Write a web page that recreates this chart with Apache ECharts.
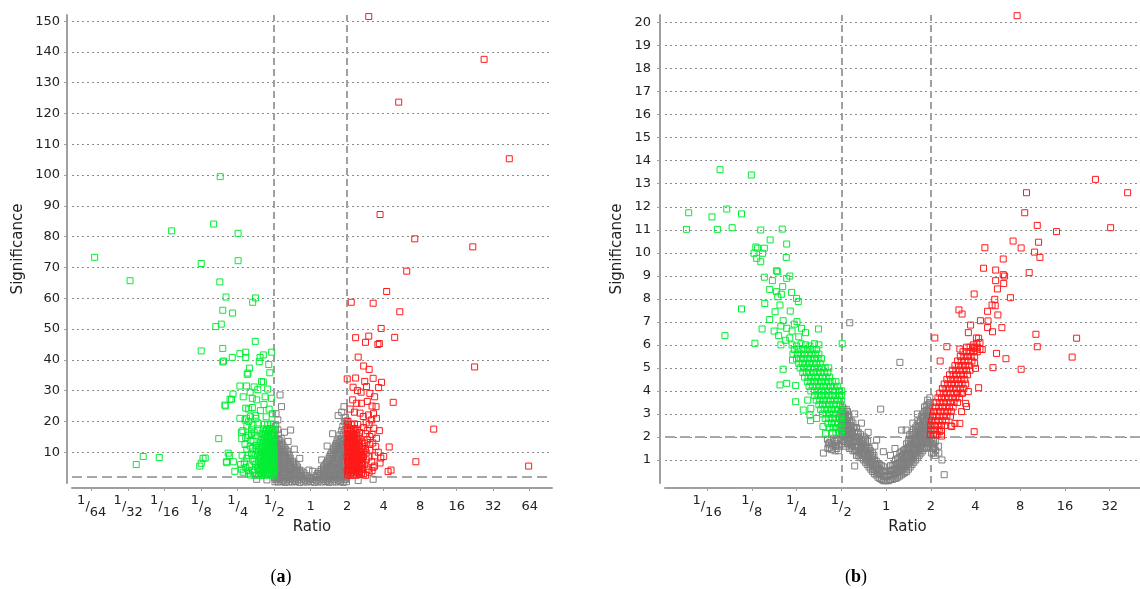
<!DOCTYPE html>
<html>
<head>
<meta charset="utf-8">
<script src="https://cdn.jsdelivr.net/npm/echarts@6/dist/echarts.min.js"></script>
<style>
  html, body { margin: 0; padding: 0; background: #fff; }
  #chart { width: 1140px; height: 589px; }
</style>
</head>
<body>
<div id="chart"></div>
<script>
// x values are log2(ratio), y values are significance

const xTicksA = [-6, -5, -4, -3, -2, -1, 0, 1, 2, 3, 4, 5, 6]
const xLabelsA = ['1/64', '1/32', '1/16', '1/8', '1/4', '1/2', '1', '2', '4', '8', '16', '32', '64']
const yTicksA = [10, 20, 30, 40, 50, 60, 70, 80, 90, 100, 110, 120, 130, 140, 150]

const xTicksB = [-4, -3, -2, -1, 0, 1, 2, 3, 4, 5]
const xLabelsB = ['1/16', '1/8', '1/4', '1/2', '1', '2', '4', '8', '16', '32']
const yTicksB = [1, 2, 3, 4, 5, 6, 7, 8, 9, 10, 11, 12, 13, 14, 15, 16, 17, 18, 19, 20]

const ratioCutoffs = [-1, 1]   // 1/2 and 2
const sigCutoff = 2

const grayA = [
  [-0.98,0.4],[-0.89,0.3],[-0.79,0.5],[-0.7,0.2],[-0.6,0.4],[-0.5,0.3],[-0.41,0.5],[-0.3,0.2],[-0.2,0.4],[-0.1,0.3],[0.0,0.5],
  [0.1,0.2],[0.2,0.4],[0.3,0.3],[0.41,0.5],[0.5,0.2],[0.6,0.4],[0.7,0.3],[0.8,0.5],[0.89,0.2],[0.98,0.4],
  [-0.95,1.0],[-0.85,1.1],[-0.75,0.9],[-0.65,1.0],[-0.55,1.1],[-0.45,0.9],[-0.35,1.0],[-0.25,1.1],[-0.15,0.9],[-0.05,1.0],
  [0.05,1.1],[0.15,0.9],[0.25,1.0],[0.35,1.1],[0.45,0.9],[0.55,1.0],[0.65,1.1],[0.75,0.9],[0.85,1.0],[0.95,1.1],
  [-0.99,1.7],[-0.9,1.5],[-0.8,1.8],[-0.7,1.6],[-0.6,1.9],[-0.5,1.5],[-0.4,1.7],[-0.3,1.8],[-0.2,1.6],[-0.1,1.9],[-0.02,1.5],
  [0.08,1.7],[0.18,1.8],[0.28,1.6],[0.38,1.9],[0.48,1.5],[0.58,1.7],[0.68,1.8],[0.78,1.6],[0.88,1.9],[0.97,1.7],
  [-0.95,2.4],[-0.85,2.3],[-0.75,2.5],[-0.65,2.4],[-0.55,2.3],[-0.45,2.5],[-0.35,2.4],[-0.25,2.3],[-0.15,2.5],
  [0.15,2.4],[0.25,2.5],[0.35,2.3],[0.45,2.4],[0.55,2.5],[0.65,2.3],[0.75,2.4],[0.85,2.5],[0.95,2.3],
  [-0.98,3.0],[-0.88,3.2],[-0.78,2.9],[-0.68,3.3],[-0.58,3.1],[-0.48,2.9],[-0.38,3.2],[-0.28,3.0],[-0.19,3.3],
  [0.19,3.1],[0.28,2.9],[0.38,3.2],[0.48,3.0],[0.58,3.3],[0.68,2.9],[0.78,3.1],[0.88,3.2],[0.97,3.0],
  [-0.95,3.8],[-0.85,3.9],[-0.75,3.7],[-0.65,3.8],[-0.55,3.9],[-0.45,3.7],[-0.35,3.8],[-0.26,3.9],
  [0.25,3.8],[0.34,3.7],[0.44,3.9],[0.54,3.8],[0.64,3.7],[0.74,3.9],[0.84,3.8],[0.94,3.7],
  [-0.99,4.5],[-0.89,4.3],[-0.79,4.6],[-0.69,4.4],[-0.59,4.7],[-0.49,4.3],[-0.39,4.5],[-0.31,4.2],
  [0.29,4.4],[0.37,4.6],[0.47,4.3],[0.57,4.5],[0.67,4.7],[0.77,4.4],[0.87,4.6],[0.97,4.3],
  [-0.95,5.2],[-0.85,5.3],[-0.75,5.1],[-0.65,5.2],[-0.55,5.3],[-0.45,5.1],[-0.36,5.2],
  [0.35,5.2],[0.44,5.1],[0.53,5.3],[0.63,5.2],[0.73,5.1],[0.83,5.3],[0.93,5.2],
  [-0.98,5.9],[-0.88,6.1],[-0.78,5.8],[-0.68,6.0],[-0.58,5.7],[-0.48,6.1],[-0.4,5.8],
  [0.39,5.9],[0.47,6.1],[0.56,5.8],[0.66,6.0],[0.76,5.7],[0.86,6.1],[0.96,5.9],
  [-0.95,6.6],[-0.85,6.7],[-0.75,6.5],[-0.65,6.6],[-0.55,6.7],[-0.46,6.5],
  [0.43,6.6],[0.51,6.7],[0.6,6.5],[0.7,6.6],[0.8,6.7],[0.9,6.5],
  [-0.99,7.3],[-0.9,7.1],[-0.8,7.4],[-0.7,7.2],[-0.6,7.5],[-0.5,7.1],
  [0.46,7.2],[0.55,7.4],[0.65,7.1],[0.75,7.5],[0.85,7.2],[0.95,7.4],
  [-0.95,8.0],[-0.85,8.1],[-0.75,7.9],[-0.65,8.0],[-0.56,8.1],
  [0.5,8.0],[0.58,7.9],[0.67,8.1],[0.76,8.0],[0.86,7.9],[0.95,8.1],
  [-0.98,8.7],[-0.89,8.5],[-0.79,8.8],[-0.69,8.6],[-0.59,8.9],
  [0.52,8.6],[0.61,8.8],[0.71,8.5],[0.8,8.9],[0.9,8.7],[0.98,8.5],
  [-0.95,9.4],[-0.85,9.5],[-0.75,9.3],[-0.62,9.4],
  [0.55,9.4],[0.63,9.3],[0.72,9.5],[0.81,9.4],[0.9,9.3],
  [-0.99,10.1],[-0.9,9.9],[-0.81,10.2],[-0.72,10.0],[-0.64,10.3],
  [0.58,10.0],[0.67,10.2],[0.76,9.9],[0.85,10.3],[0.94,10.1],
  [-0.95,10.8],[-0.85,10.9],[-0.76,10.7],[-0.68,10.8],
  [0.62,10.8],[0.7,10.7],[0.79,10.9],[0.88,10.8],[0.96,10.7],
  [-0.98,11.5],[-0.89,11.3],[-0.8,11.7],[-0.71,11.4],
  [0.64,11.4],[0.72,11.7],[0.81,11.3],[0.9,11.6],[0.98,11.4],
  [-0.95,12.2],[-0.85,12.3],[-0.76,12.1],[0.68,12.2],[0.76,12.1],[0.85,12.3],[0.94,12.2],
  [-0.99,12.9],[-0.9,12.7],[-0.8,13.0],[0.7,12.8],[0.78,13.1],[0.87,12.7],[0.96,13.0],
  [-0.95,13.6],[-0.85,13.7],[0.72,13.6],[0.81,13.5],[0.9,13.7],[0.98,13.6],
  [-0.98,14.3],[-0.89,14.1],[-0.81,14.5],[0.75,14.2],[0.84,14.5],[0.93,14.1],[0.99,14.4],
  [-0.99,15.7],[-0.88,15.9],[0.8,15.6],[0.89,15.9],[0.97,15.7],
  [-0.97,17.1],[-0.9,17.3],[0.85,17.0],[0.94,17.3],
  [-0.96,18.5],[0.88,18.4],[0.97,18.7],
  [0.92,19.9],[0.99,20.2],[0.95,21.3],
  [-0.84,28.6],[-0.8,24.8],[-0.55,17.2],[-0.95,22.5],[-0.9,20.5],[-0.72,16.5],[-0.62,13.5],
  [0.91,24.8],[0.75,21.9],[0.6,16.0],[0.85,23.0],[1.71,1.2],[-1.48,1.2],[-0.3,8.0],[0.3,7.5],
  [0.05,3.8],[-0.05,4.2],[0.45,12.0],[-0.45,11.0],[-1.2,1.0],[1.3,0.8]
]

const greenA = [
  [-5.92,73.3],[-4.95,65.7],[-3.81,81.9],[-2.66,84.1],[-2.48,99.5],[-1.99,81.1],[-3.0,71.3],[-1.99,72.2],
  [-2.49,65.3],[-2.32,60.4],[-2.41,56.1],[-2.14,55.2],[-2.6,50.8],[-2.45,51.6],[-1.59,58.7],[-1.51,60.1],
  [-3.0,42.9],[-2.41,43.7],[-2.41,39.3],[-2.39,39.6],[-2.15,40.8],[-1.94,42.0],[-1.78,42.5],[-1.52,46.0],
  [-1.78,40.8],[-1.39,40.8],[-1.30,41.6],[-1.07,42.5],[-1.15,38.5],[-1.12,35.8],[-1.68,37.3],[-1.74,35.3],
  [-1.41,39.4],[-1.94,31.5],[-1.76,31.5],[-1.55,31.2],[-1.45,30.3],[-1.3,32.8],[-2.13,28.9],[-2.21,27.2],
  [-2.34,25.0],[-2.52,14.4],[-1.89,14.4],[-1.94,21.0],[-1.76,21.0],[-3.0,6.4],[-2.89,8.1],[-3.04,5.5],
  [-4.78,6.0],[-4.59,8.6],[-4.15,8.3],[-2.3,6.6],[-2.23,8.9],[-2.08,3.8],[-1.70,3.0],[-2.35,25.3],
  [-2.17,27.2],[-1.72,35.7],[-1.35,32.9],[-2.26,9.7],[-2.31,6.9],[-2.12,6.9],[-2.95,8.0],
  [-1.85,28.0],[-1.66,29.5],[-1.6,27.5],[-1.48,27.0],[-1.7,24.0],[-1.6,24.5],[-1.78,24.3],[-1.52,22.0],
  [-1.65,21.5],[-1.38,23.5],[-1.45,19.5],[-1.75,18.5],[-1.62,17.5],[-1.86,17.0],[-1.55,16.5],[-1.7,15.5],
  [-1.8,12.5],[-1.66,12.0],[-1.58,13.5],[-1.88,9.0],[-1.75,8.0],[-1.62,9.5],[-1.82,6.5],[-1.68,5.5],
  [-1.55,7.0],[-1.9,4.5],[-1.58,3.5],[-1.45,4.8],[-1.35,3.0],[-1.25,28.0],[-1.18,30.5],[-1.08,27.5],
  [-1.28,25.5],[-1.14,24.0],[-1.05,22.5],[-1.22,21.5],
  [-1.52,2.5],[-1.6,4.2],[-1.7,4.0],[-1.78,5.0],[-1.5,6.2],[-1.6,7.8],[-1.72,9.0],[-1.52,9.2],
  [-1.48,10.8],[-1.6,11.2],[-1.75,11.0],[-1.5,12.2],[-1.64,13.8],[-1.78,14.8],[-1.5,15.5],[-1.62,16.0],
  [-1.45,17.0],[-1.58,18.8],[-1.7,20.0],[-1.5,21.0],[-1.85,3.5],[-1.92,6.0],[-1.65,2.6],[-1.8,20.5],[-1.9,16.5],
  [-1.43,2.6],[-1.33,2.4],[-1.24,2.7],[-1.15,2.5],[-1.06,2.8],[-1.0,2.3],
  [-1.38,3.3],[-1.29,3.2],[-1.2,3.4],[-1.11,3.2],[-1.02,3.3],
  [-1.41,4.1],[-1.32,3.9],[-1.23,4.2],[-1.14,4.0],[-1.05,3.8],[-1.0,4.3],
  [-1.38,4.8],[-1.29,4.7],[-1.2,4.9],[-1.11,4.7],[-1.02,4.8],
  [-1.44,5.6],[-1.34,5.4],[-1.25,5.7],[-1.16,5.5],[-1.07,5.3],[-1.0,5.8],
  [-1.38,6.3],[-1.29,6.2],[-1.2,6.4],[-1.11,6.2],[-1.02,6.3],
  [-1.42,7.1],[-1.33,6.9],[-1.24,7.2],[-1.15,7.0],[-1.06,7.3],[-1.0,6.8],
  [-1.37,7.8],[-1.28,7.7],[-1.19,7.9],[-1.1,7.7],[-1.02,7.8],
  [-1.4,8.6],[-1.31,8.4],[-1.22,8.7],[-1.13,8.5],[-1.05,8.3],[-1.0,8.8],
  [-1.37,9.3],[-1.28,9.2],[-1.19,9.4],[-1.1,9.2],[-1.02,9.3],
  [-1.43,10.1],[-1.34,9.9],[-1.25,10.2],[-1.16,10.0],[-1.07,9.8],[-1.0,10.3],
  [-1.37,10.8],[-1.28,10.7],[-1.19,10.9],[-1.1,10.7],[-1.02,10.8],
  [-1.41,11.6],[-1.32,11.4],[-1.23,11.7],[-1.14,11.5],[-1.05,11.3],[-1.0,11.8],
  [-1.33,12.3],[-1.24,12.2],[-1.15,12.4],[-1.06,12.2],
  [-1.38,13.1],[-1.29,12.9],[-1.2,13.2],[-1.11,13.0],[-1.03,12.8],
  [-1.31,13.8],[-1.22,13.7],[-1.13,13.9],[-1.04,13.7],
  [-1.36,14.6],[-1.27,14.4],[-1.18,14.7],[-1.09,14.5],[-1.0,14.3],
  [-1.28,15.3],[-1.19,15.2],[-1.1,15.4],[-1.02,15.2],
  [-1.33,16.1],[-1.24,15.9],[-1.15,16.2],[-1.06,16.0],[-1.0,16.4],
  [-1.25,16.8],[-1.16,16.7],[-1.07,16.9],
  [-1.3,17.6],[-1.21,17.4],[-1.12,17.7],[-1.03,17.5],
  [-1.27,19.1],[-1.18,18.9],[-1.09,19.2],[-1.01,19.0]
]

const redA = [
  [1.59,151.5],[4.75,137.6],[2.41,123.7],[5.44,105.3],[1.90,87.2],[2.85,79.3],[4.44,76.7],[2.63,68.8],
  [2.08,62.2],[1.11,58.7],[1.71,58.4],[2.44,55.6],[1.93,50.2],[1.23,47.2],[1.59,47.7],[1.50,45.7],
  [1.84,45.0],[1.88,45.3],[2.30,47.3],[1.30,40.9],[1.45,38.0],[1.60,36.9],[4.49,37.7],[1.0,33.8],
  [1.23,34.1],[1.16,31.1],[1.94,32.7],[1.86,31.0],[2.26,26.2],[3.37,17.5],[2.15,11.7],[1.92,8.1],
  [2.0,8.6],[2.88,6.9],[2.2,4.2],[2.12,3.7],[5.97,5.5],[1.71,5.1],
  [1.71,34.0],[1.53,31.3],[1.62,29.1],[1.75,28.0],[1.79,24.8],[1.26,25.9],[1.39,25.9],[1.35,22.7],
  [1.44,21.6],[1.58,22.1],[1.67,20.5],[1.73,17.8],[1.55,17.0],[1.62,15.1],[1.48,12.9],[1.62,10.7],
  [1.44,8.6],[1.33,5.9],[1.48,5.9],[1.67,6.9],[1.85,10.0],[1.7,13.0],[1.52,19.5],[1.38,29.5],
  [1.48,33.0],[1.28,30.0],[1.15,27.0],[1.08,24.0],[1.2,23.0],[1.02,20.0],[1.6,3.5],[1.45,3.0],
  [1.55,26.5],[1.68,25.0],[1.8,21.0],
  [1.5,2.5],[1.58,4.5],[1.68,4.0],[1.75,5.5],[1.52,7.5],[1.6,8.5],[1.75,8.8],[1.52,9.8],
  [1.5,11.2],[1.62,12.5],[1.78,11.8],[1.55,14.0],[1.68,15.8],[1.8,14.5],[1.5,16.0],[1.45,18.0],
  [1.6,19.0],[1.72,22.5],[1.88,17.0],[1.9,6.5],
  [1.01,2.6],[1.08,2.4],[1.16,2.7],[1.25,2.5],[1.34,2.8],
  [1.04,3.3],[1.12,3.2],[1.21,3.4],[1.3,3.2],[1.39,3.3],
  [1.0,4.1],[1.06,3.9],[1.15,4.2],[1.24,4.0],[1.33,3.8],[1.42,4.3],
  [1.04,4.8],[1.12,4.7],[1.21,4.9],[1.3,4.7],[1.39,4.8],
  [1.02,5.6],[1.08,5.4],[1.17,5.7],[1.26,5.5],[1.35,5.3],[1.43,5.8],
  [1.04,6.3],[1.12,6.2],[1.21,6.4],[1.3,6.2],[1.39,6.3],
  [1.01,7.1],[1.07,6.9],[1.16,7.2],[1.25,7.0],[1.34,7.3],[1.42,6.8],
  [1.04,7.8],[1.12,7.7],[1.21,7.9],[1.3,7.7],[1.39,7.8],
  [1.0,8.6],[1.06,8.4],[1.15,8.7],[1.24,8.5],[1.33,8.3],[1.41,8.8],
  [1.04,9.3],[1.12,9.2],[1.21,9.4],[1.3,9.2],[1.39,9.3],
  [1.02,10.1],[1.08,9.9],[1.17,10.2],[1.26,10.0],[1.35,9.8],[1.43,10.3],
  [1.04,10.8],[1.12,10.7],[1.21,10.9],[1.3,10.7],[1.39,10.8],
  [1.01,11.6],[1.07,11.4],[1.16,11.7],[1.25,11.5],[1.34,11.3],[1.42,11.8],
  [1.04,12.3],[1.12,12.2],[1.21,12.4],[1.3,12.2],
  [1.0,13.1],[1.06,12.9],[1.15,13.2],[1.24,13.0],[1.33,12.8],[1.41,13.3],
  [1.04,13.8],[1.12,13.7],[1.21,13.9],[1.3,13.7],
  [1.02,14.6],[1.08,14.4],[1.17,14.7],[1.26,14.5],[1.35,14.3],
  [1.04,15.3],[1.12,15.2],[1.21,15.4],[1.3,15.2],
  [1.01,16.1],[1.07,15.9],[1.16,16.2],[1.25,16.0],[1.34,16.4],
  [1.05,16.8],[1.13,16.7],[1.22,16.9],
  [1.0,17.6],[1.09,17.4],[1.18,17.7],[1.27,17.5],
  [1.02,19.1],[1.11,18.9],[1.2,19.2],[1.29,19.0]
]

const grayB = [
  [-1.3,1.5],[-1.29,1.7],[-1.31,1.9],[-1.22,1.45],[-1.21,1.65],[-1.23,1.85],[-1.14,1.4],[-1.13,1.6],
  [-1.15,1.8],[-1.06,1.4],[-1.05,1.6],[-1.07,1.85],[-1.26,1.55],[-1.26,1.75],[-1.1,1.5],[-1.1,1.7],[-1.1,1.9],
  [-0.98,1.7],[-0.99,1.9],[-0.97,2.1],[-0.98,2.3],[-0.99,2.5],[-0.97,2.7],[-0.98,2.9],[-0.99,3.1],[-0.97,3.3],
  [-0.94,1.8],[-0.94,2.0],[-0.94,2.2],[-0.94,2.4],[-0.94,2.6],[-0.94,2.8],[-0.94,3.0],[-0.94,3.2],
  [-0.9,1.6],[-0.91,1.8],[-0.89,2.0],[-0.9,2.2],[-0.91,2.4],[-0.89,2.6],[-0.9,2.8],[-0.91,3.0],[-0.89,3.2],
  [-0.86,1.7],[-0.86,1.9],[-0.86,2.1],[-0.86,2.3],[-0.86,2.5],[-0.86,2.7],[-0.86,2.9],[-0.86,3.1],
  [-0.82,1.5],[-0.83,1.7],[-0.81,1.9],[-0.82,2.1],[-0.83,2.3],[-0.81,2.5],[-0.82,2.7],[-0.83,2.9],
  [-0.78,1.5],[-0.78,1.7],[-0.78,1.9],[-0.78,2.1],[-0.78,2.3],[-0.78,2.5],[-0.78,2.7],
  [-0.74,1.4],[-0.75,1.6],[-0.73,1.8],[-0.74,2.0],[-0.75,2.2],[-0.73,2.4],[-0.74,2.6],
  [-0.7,1.4],[-0.7,1.6],[-0.7,1.8],[-0.7,2.0],[-0.7,2.2],[-0.7,2.4],
  [-0.66,1.2],[-0.67,1.4],[-0.65,1.6],[-0.66,1.8],[-0.67,2.0],[-0.65,2.2],[-0.66,2.4],
  [-0.62,1.2],[-0.62,1.4],[-0.62,1.6],[-0.62,1.8],[-0.62,2.0],[-0.62,2.2],
  [-0.58,1.1],[-0.59,1.3],[-0.57,1.5],[-0.58,1.7],[-0.59,1.9],[-0.57,2.1],
  [-0.54,1.1],[-0.54,1.3],[-0.54,1.5],[-0.54,1.7],[-0.54,1.9],
  [-0.5,1.0],[-0.51,1.2],[-0.49,1.4],[-0.5,1.6],[-0.51,1.8],[-0.49,2.0],
  [-0.46,0.9],[-0.46,1.1],[-0.46,1.3],[-0.46,1.5],[-0.46,1.7],[-0.46,1.9],
  [-0.42,0.8],[-0.43,1.0],[-0.41,1.2],[-0.42,1.4],[-0.43,1.6],[-0.41,1.8],
  [-0.38,0.7],[-0.38,0.9],[-0.38,1.1],[-0.38,1.3],[-0.38,1.5],
  [-0.34,0.6],[-0.35,0.8],[-0.33,1.0],[-0.34,1.2],[-0.35,1.4],
  [-0.3,0.5],[-0.3,0.7],[-0.3,0.9],[-0.3,1.1],[-0.3,1.3],
  [-0.26,0.4],[-0.27,0.6],[-0.25,0.8],[-0.26,1.0],[-0.27,1.2],
  [-0.22,0.35],[-0.22,0.55],[-0.22,0.75],[-0.22,0.95],
  [-0.18,0.25],[-0.19,0.45],[-0.17,0.65],[-0.18,0.85],
  [-0.14,0.2],[-0.14,0.4],[-0.14,0.6],[-0.14,0.8],
  [-0.1,0.15],[-0.11,0.35],[-0.09,0.55],[-0.1,0.75],
  [-0.06,0.1],[-0.06,0.3],[-0.06,0.5],[-0.06,0.7],
  [-0.02,0.1],[-0.03,0.3],[-0.01,0.5],
  [0.02,0.1],[0.02,0.3],[0.02,0.5],
  [0.06,0.1],[0.05,0.3],[0.07,0.5],
  [0.1,0.15],[0.1,0.35],[0.1,0.55],[0.1,0.75],
  [0.14,0.15],[0.13,0.35],[0.15,0.55],[0.14,0.75],
  [0.18,0.2],[0.18,0.4],[0.18,0.6],[0.18,0.8],
  [0.22,0.2],[0.21,0.4],[0.23,0.6],[0.22,0.8],[0.21,1.0],
  [0.26,0.25],[0.26,0.45],[0.26,0.65],[0.26,0.85],[0.26,1.05],
  [0.3,0.3],[0.29,0.5],[0.31,0.7],[0.3,0.9],[0.29,1.1],[0.31,1.3],
  [0.34,0.35],[0.34,0.55],[0.34,0.75],[0.34,0.95],[0.34,1.15],[0.34,1.35],
  [0.38,0.4],[0.37,0.6],[0.39,0.8],[0.38,1.0],[0.37,1.2],[0.39,1.4],
  [0.42,0.45],[0.42,0.65],[0.42,0.85],[0.42,1.05],[0.42,1.25],[0.42,1.45],
  [0.46,0.5],[0.45,0.7],[0.47,0.9],[0.46,1.1],[0.45,1.3],[0.47,1.5],[0.46,1.7],
  [0.5,0.6],[0.5,0.8],[0.5,1.0],[0.5,1.2],[0.5,1.4],[0.5,1.6],[0.5,1.8],
  [0.54,0.7],[0.53,0.9],[0.55,1.1],[0.54,1.3],[0.53,1.5],[0.55,1.7],[0.54,1.9],[0.53,2.1],
  [0.58,0.8],[0.58,1.0],[0.58,1.2],[0.58,1.4],[0.58,1.6],[0.58,1.8],[0.58,2.0],[0.58,2.2],
  [0.62,0.9],[0.61,1.1],[0.63,1.3],[0.62,1.5],[0.61,1.7],[0.63,1.9],[0.62,2.1],[0.61,2.3],
  [0.66,1.0],[0.66,1.2],[0.66,1.4],[0.66,1.6],[0.66,1.8],[0.66,2.0],[0.66,2.2],[0.66,2.4],
  [0.7,1.1],[0.69,1.3],[0.71,1.5],[0.7,1.7],[0.69,1.9],[0.71,2.1],[0.7,2.3],[0.69,2.5],[0.71,2.7],
  [0.74,1.2],[0.74,1.4],[0.74,1.6],[0.74,1.8],[0.74,2.0],[0.74,2.2],[0.74,2.4],[0.74,2.6],
  [0.78,1.3],[0.77,1.5],[0.79,1.7],[0.78,1.9],[0.77,2.1],[0.79,2.3],[0.78,2.5],[0.77,2.7],[0.79,2.9],
  [0.82,1.4],[0.82,1.6],[0.82,1.8],[0.82,2.0],[0.82,2.2],[0.82,2.4],[0.82,2.6],[0.82,2.8],[0.82,3.0],
  [0.86,1.5],[0.85,1.7],[0.87,1.9],[0.86,2.1],[0.85,2.3],[0.87,2.5],[0.86,2.7],[0.85,2.9],[0.87,3.1],[0.86,3.3],
  [0.9,1.55],[0.9,1.75],[0.9,1.95],[0.9,2.15],[0.9,2.35],[0.9,2.55],[0.9,2.75],[0.9,2.95],[0.9,3.15],[0.9,3.35],
  [0.94,1.6],[0.93,1.8],[0.95,2.0],[0.94,2.2],[0.93,2.4],[0.95,2.6],[0.94,2.8],[0.93,3.0],[0.95,3.2],[0.94,3.4],[0.93,3.6],
  [0.98,1.7],[0.98,1.9],[0.98,2.1],[0.98,2.3],[0.98,2.5],[0.98,2.7],[0.98,2.9],[0.98,3.1],[0.98,3.3],[0.98,3.5],[0.98,3.7],
  [1.02,1.3],[1.03,1.5],[1.01,1.7],[1.02,1.9],[1.06,1.3],[1.06,1.5],[1.06,1.7],[1.06,1.9],
  [1.1,1.2],[1.11,1.4],[1.09,1.6],[1.1,1.8],[1.18,1.3],[1.17,1.6],
  [-0.81,6.96],[0.31,5.24],[-0.12,3.21],[1.30,0.36],[-0.06,1.36],[0.45,2.3],[-0.4,2.2],[0.6,2.6],
  [-0.25,1.6],[0.2,1.5],[-0.55,2.6],[0.7,3.0],[1.25,1.0],[-1.4,1.3],[0.1,1.2],[-0.7,3.0],
  [-0.7,0.74],[-0.21,1.87],[0.35,2.3]
]

const greenB = [
  [-3.71,13.61],[-3.01,13.38],[-4.41,11.74],[-4.46,11.02],[-3.89,11.56],[-3.56,11.9],[-3.77,11.02],[-3.44,11.09],
  [-3.23,11.69],[-2.80,10.99],[-2.32,11.03],[-2.59,10.56],[-2.22,10.38],[-2.91,10.25],[-2.87,10.2],[-2.72,10.2],
  [-2.95,9.98],[-2.76,9.98],[-2.23,9.8],[-2.89,9.76],[-2.80,9.61],[-2.72,8.94],[-2.45,9.22],[-2.42,9.18],
  [-2.15,8.99],[-2.54,8.79],[-2.22,8.89],[-2.31,8.53],[-2.6,8.41],[-2.45,8.31],[-2.11,8.28],[-2.42,8.09],
  [-2.34,8.2],[-2.0,8.02],[-1.96,7.88],[-2.71,7.8],[-2.37,7.73],[-3.23,7.56],[-2.48,7.44],[-2.14,7.47],
  [-2.30,7.05],[-1.99,7.01],[-2.77,6.69],[-2.35,6.82],[-2.22,6.72],[-2.1,6.6],[-2.05,6.9],[-1.89,6.72],
  [-1.80,6.53],[-1.51,6.69],[-3.6,6.4],[-2.93,6.07],[-2.35,6.0],[-2.25,6.2],[-2.3,4.94],[-2.37,4.26],
  [-2.22,4.33],[-2.02,4.24],[-2.02,3.53],[-1.85,3.17],[-1.69,2.71],[-0.98,6.05],[-1.41,2.45],[-1.35,2.16],
  [-2.4,6.4],[-2.15,6.3],[-1.95,6.35],[-2.6,7.1],[-2.5,6.6],[-1.70,2.95],[-1.68,3.24],[-2.09,5.34],
  [-1.75,3.6],[-1.55,2.8],
  [-2.1,6.0],[-2.0,5.95],[-1.9,6.05],[-1.8,6.0],[-1.7,5.95],[-1.6,6.05],[-1.5,6.0],
  [-2.05,5.8],[-1.95,5.8],[-1.85,5.8],[-1.75,5.8],[-1.65,5.8],[-1.55,5.8],
  [-2.08,5.6],[-1.98,5.6],[-1.9,5.6],[-1.82,5.6],[-1.74,5.6],[-1.66,5.6],[-1.58,5.6],[-1.5,5.6],
  [-2.0,5.4],[-1.92,5.4],[-1.84,5.4],[-1.76,5.4],[-1.68,5.4],[-1.6,5.4],[-1.52,5.4],[-1.44,5.4],
  [-1.95,5.2],[-1.87,5.2],[-1.79,5.2],[-1.71,5.2],[-1.63,5.2],[-1.55,5.2],[-1.47,5.2],
  [-1.92,5.0],[-1.84,5.0],[-1.76,5.0],[-1.68,5.0],[-1.6,5.0],[-1.52,5.0],[-1.44,5.0],[-1.36,5.0],[-1.28,5.0],
  [-1.86,4.8],[-1.78,4.8],[-1.7,4.8],[-1.62,4.8],[-1.54,4.8],[-1.46,4.8],[-1.38,4.8],[-1.3,4.8],
  [-1.82,4.6],[-1.74,4.6],[-1.66,4.6],[-1.58,4.6],[-1.5,4.6],[-1.42,4.6],[-1.34,4.6],[-1.26,4.6],
  [-1.76,4.4],[-1.68,4.4],[-1.6,4.4],[-1.52,4.4],[-1.44,4.4],[-1.36,4.4],[-1.28,4.4],[-1.2,4.4],[-1.12,4.4],
  [-1.72,4.2],[-1.64,4.2],[-1.56,4.2],[-1.48,4.2],[-1.4,4.2],[-1.32,4.2],[-1.24,4.2],[-1.16,4.2],[-1.08,4.2],
  [-1.68,4.0],[-1.6,4.0],[-1.52,4.0],[-1.44,4.0],[-1.36,4.0],[-1.28,4.0],[-1.2,4.0],[-1.12,4.0],[-1.04,4.0],[-0.99,4.0],
  [-1.6,3.8],[-1.52,3.8],[-1.44,3.8],[-1.36,3.8],[-1.28,3.8],[-1.2,3.8],[-1.12,3.8],[-1.04,3.8],[-0.99,3.8],
  [-1.56,3.6],[-1.48,3.6],[-1.4,3.6],[-1.32,3.6],[-1.24,3.6],[-1.16,3.6],[-1.08,3.6],[-1.0,3.6],
  [-1.5,3.4],[-1.42,3.4],[-1.34,3.4],[-1.26,3.4],[-1.18,3.4],[-1.1,3.4],[-1.02,3.4],
  [-1.46,3.2],[-1.38,3.2],[-1.3,3.2],[-1.22,3.2],[-1.14,3.2],[-1.06,3.2],[-0.99,3.2],
  [-1.42,3.0],[-1.34,3.0],[-1.26,3.0],[-1.18,3.0],[-1.1,3.0],[-1.02,3.0],
  [-1.36,2.8],[-1.28,2.8],[-1.2,2.8],[-1.12,2.8],[-1.04,2.8],[-0.99,2.8],
  [-1.3,2.6],[-1.22,2.6],[-1.14,2.6],[-1.06,2.6],[-0.99,2.6],
  [-1.26,2.4],[-1.18,2.4],[-1.1,2.4],[-1.02,2.4],
  [-1.2,2.2],[-1.12,2.2],[-1.04,2.2],[-0.99,2.2]
]

const redB = [
  [2.93,20.3],[4.68,13.19],[5.40,12.61],[3.14,12.61],[3.10,11.74],[3.38,11.19],[3.81,10.92],[5.02,11.09],
  [2.84,10.51],[3.41,10.46],[3.02,10.21],[2.21,10.22],[3.32,10.03],[2.62,9.73],[3.44,9.8],[2.18,9.33],
  [2.45,9.25],[2.65,8.99],[2.62,9.05],[3.2,9.14],[2.45,8.79],[2.63,8.67],[2.49,8.43],[1.97,8.21],
  [2.78,8.05],[2.43,7.98],[2.37,7.73],[2.44,7.7],[1.63,7.52],[2.27,7.46],[1.70,7.34],[2.5,7.3],
  [2.11,7.05],[2.28,7.04],[1.89,6.86],[2.27,6.75],[2.38,6.57],[2.59,6.75],[1.84,6.53],[3.35,6.46],
  [4.26,6.29],[1.09,6.3],[3.38,5.92],[4.16,5.47],[1.36,5.92],[1.65,5.82],[1.21,5.3],[2.47,5.63],
  [2.68,5.4],[3.02,4.94],[2.39,5.01],[2.07,4.14],[1.84,3.97],[1.78,3.46],[1.69,3.1],[1.45,2.48],
  [1.97,2.23],[1.24,2.04],[2.1,6.1],[2.02,6.3],[2.15,5.8],[1.95,6.0],[2.07,6.29],[2.03,6.07],
  [1.98,5.85],[2.1,5.81],[1.98,5.2],[2.0,4.98],[1.71,3.9],[1.8,3.32],[1.54,2.59],[1.47,2.45],
  [1.65,2.59],[1.2,2.23],
  [0.99,2.1],[1.06,2.1],[1.14,2.1],
  [1.0,2.3],[1.08,2.3],[1.16,2.3],[1.24,2.3],
  [1.0,2.5],[1.08,2.5],[1.16,2.5],[1.24,2.5],[1.32,2.5],
  [1.02,2.7],[1.1,2.7],[1.18,2.7],[1.26,2.7],[1.34,2.7],
  [1.04,2.9],[1.12,2.9],[1.2,2.9],[1.28,2.9],[1.36,2.9],[1.44,2.9],
  [1.06,3.1],[1.14,3.1],[1.22,3.1],[1.3,3.1],[1.38,3.1],[1.46,3.1],
  [1.1,3.3],[1.18,3.3],[1.26,3.3],[1.34,3.3],[1.42,3.3],[1.5,3.3],
  [1.12,3.5],[1.2,3.5],[1.28,3.5],[1.36,3.5],[1.44,3.5],[1.52,3.5],[1.6,3.5],
  [1.16,3.7],[1.24,3.7],[1.32,3.7],[1.4,3.7],[1.48,3.7],[1.56,3.7],[1.64,3.7],
  [1.2,3.9],[1.28,3.9],[1.36,3.9],[1.44,3.9],[1.52,3.9],[1.6,3.9],[1.68,3.9],
  [1.26,4.1],[1.34,4.1],[1.42,4.1],[1.5,4.1],[1.58,4.1],[1.66,4.1],[1.74,4.1],
  [1.3,4.3],[1.38,4.3],[1.46,4.3],[1.54,4.3],[1.62,4.3],[1.7,4.3],[1.78,4.3],
  [1.36,4.5],[1.44,4.5],[1.52,4.5],[1.6,4.5],[1.68,4.5],[1.76,4.5],
  [1.42,4.7],[1.5,4.7],[1.58,4.7],[1.66,4.7],[1.74,4.7],[1.82,4.7],
  [1.48,4.9],[1.56,4.9],[1.64,4.9],[1.72,4.9],[1.8,4.9],[1.88,4.9],
  [1.54,5.1],[1.62,5.1],[1.7,5.1],[1.78,5.1],[1.86,5.1],
  [1.6,5.3],[1.68,5.3],[1.76,5.3],[1.84,5.3],[1.92,5.3],
  [1.66,5.5],[1.74,5.5],[1.82,5.5],[1.9,5.5],[1.98,5.5],
  [1.72,5.7],[1.8,5.7],[1.88,5.7],[1.96,5.7],[2.04,5.7],
  [1.8,5.9],[1.88,5.9],[1.96,5.9],[2.04,5.9]
]

const tickFont = 'DejaVu Sans'
const textColor = '#222'
const axisGray = '#a0a0a0'

const rich = {
  n: { fontFamily: tickFont, fontSize: 13, color: textColor, lineHeight: 14, padding: [0, 0, 12, 0] },
  s: { fontFamily: tickFont, fontSize: 13, color: textColor, lineHeight: 14, padding: [6, 0, 6, 0] },
  d: { fontFamily: tickFont, fontSize: 13, color: textColor, lineHeight: 14, padding: [12, 0, 0, 0] },
  m: { fontFamily: tickFont, fontSize: 13, color: textColor, lineHeight: 14, padding: [6, 0, 6, 0] }
}

function ratioLabel(ticks, labels) {
  return function (v) {
    const t = labels[ticks.indexOf(Math.round(v))]
    if (t === undefined) return ''
    if (t.indexOf('/') > 0) {
      const p = t.split('/')
      return '{n|' + p[0] + '}{s|/}{d|' + p[1] + '}'
    }
    return '{m|' + t + '}'
  }
}

function xAxis(idx, min, max, ticks, labels) {
  return {
    type: 'value', gridIndex: idx, min: min, max: max, offset: 5,
    name: 'Ratio', nameLocation: 'middle', nameGap: 32, nameMoveOverlap: false,
    nameTextStyle: { fontFamily: tickFont, fontSize: 15, color: textColor },
    axisLine: { show: true, onZero: false, lineStyle: { color: axisGray, width: 2 } },
    axisTick: { show: true, length: 3, customValues: ticks, lineStyle: { color: axisGray } },
    axisLabel: { margin: 12, verticalAlign: 'top', customValues: ticks, formatter: ratioLabel(ticks, labels), rich: rich },
    splitLine: { show: false }
  }
}

function yAxis(idx, max, ticks, nameGap, margin) {
  return {
    type: 'value', gridIndex: idx, min: 0, max: max, offset: 5,
    name: 'Significance', nameLocation: 'middle', nameGap: nameGap, nameRotate: 90, nameMoveOverlap: false,
    nameTextStyle: { fontFamily: tickFont, fontSize: 15, color: textColor },
    axisLine: { show: true, onZero: false, lineStyle: { color: axisGray, width: 2 } },
    axisTick: { show: true, length: 3, customValues: ticks, lineStyle: { color: axisGray } },
    axisLabel: { margin: margin, customValues: ticks, fontFamily: tickFont, fontSize: 13, color: textColor },
    splitLine: { show: false }
  }
}

function guides(idx, yTicks) {
  const lines = yTicks.map(v => ({ yAxis: v }))
  ratioCutoffs.forEach(v => lines.push({ xAxis: v, lineStyle: { type: [7, 4], color: '#a0a0a0', width: 2 } }))
  lines.push({ yAxis: sigCutoff, lineStyle: { type: [10, 5], color: '#a8a8a8', width: 2 } })
  return {
    type: 'scatter', xAxisIndex: idx, yAxisIndex: idx, data: [], silent: true, z: 1,
    markLine: {
      silent: true, symbol: ['none', 'none'], animation: false, z: 1,
      label: { show: false },
      lineStyle: { type: [2, 3], color: '#8c8c8c', width: 1.2 },
      data: lines
    }
  }
}

function points(idx, data, color, z) {
  return {
    type: 'scatter', xAxisIndex: idx, yAxisIndex: idx, data: data, silent: true, z: z,
    symbol: 'rect', symbolSize: 6,
    itemStyle: { color: 'rgba(0,0,0,0)', borderColor: color, borderWidth: 1, opacity: 1 }
  }
}

const gray = '#7f7f7f'
const green = '#00ee33'
const red = '#ff1a1a'

const chart = echarts.init(document.getElementById('chart'))
chart.setOption({
  animation: false,
  backgroundColor: '#ffffff',
  grid: [
    { left: 72, top: 15, width: 480, height: 468, outerBoundsMode: 'none' },
    { left: 665, top: 15, width: 485, height: 468, outerBoundsMode: 'none' }
  ],
  xAxis: [
    xAxis(0, -6.54, 6.61, xTicksA, xLabelsA),
    xAxis(1, -4.94, 5.9, xTicksB, xLabelsB)
  ],
  yAxis: [
    yAxis(0, 152, yTicksA, 41, 7),
    yAxis(1, 20.33, yTicksB, 35, 9)
  ],
  graphic: [
    { type: 'text', x: 281, y: 577, silent: true, style: {
      text: '{p|(}{b|a}{p|)}', align: 'center', verticalAlign: 'middle',
      rich: { p: { fontFamily: 'Liberation Serif', fontSize: 18, fill: '#000' },
              b: { fontFamily: 'Liberation Serif', fontSize: 18, fontWeight: 'bold', fill: '#000' } } } },
    { type: 'text', x: 856, y: 577, silent: true, style: {
      text: '{p|(}{b|b}{p|)}', align: 'center', verticalAlign: 'middle',
      rich: { p: { fontFamily: 'Liberation Serif', fontSize: 18, fill: '#000' },
              b: { fontFamily: 'Liberation Serif', fontSize: 18, fontWeight: 'bold', fill: '#000' } } } }
  ],
  series: [
    guides(0, yTicksA),
    guides(1, yTicksB),
    points(0, grayA, gray, 2),
    points(0, greenA, green, 3),
    points(0, redA, red, 4),
    points(1, grayB, gray, 2),
    points(1, greenB, green, 3),
    points(1, redB, red, 4)
  ]
})
</script>
</body>
</html>
